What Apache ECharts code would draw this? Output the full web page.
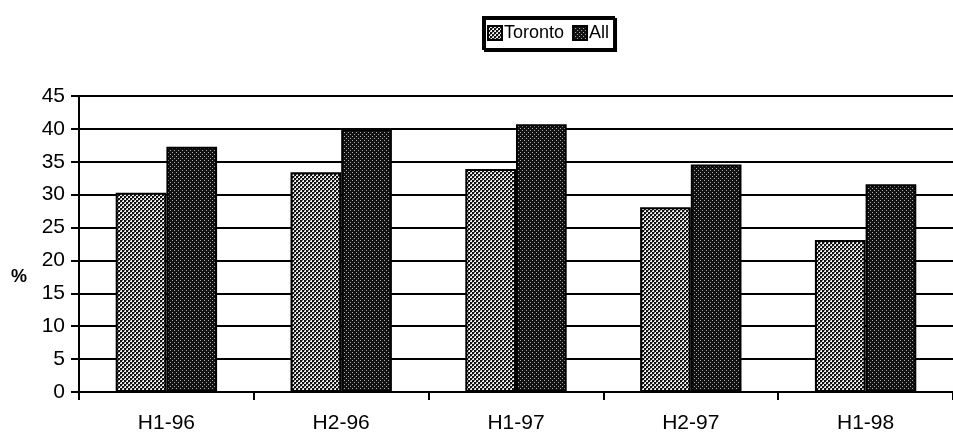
<!DOCTYPE html>
<html><head><meta charset="utf-8">
<script src="https://cdn.jsdelivr.net/npm/echarts@6/dist/echarts.min.js"></script>
<style>html,body{margin:0;padding:0;background:#fff}#c{width:953px;height:434px}</style>
</head><body><div id="c"></div>
<script>
const categories = ['H1-96','H2-96','H1-97','H2-97','H1-98'];
const toronto = [30.3, 33.4, 33.9, 28.1, 23.1];
const all = [37.3, 40.0, 40.7, 34.6, 31.6];
const seriesNames = ['Toronto','All'];
const yName = '%';

function makePattern(type){
  const c = document.createElement('canvas');
  c.width = 4; c.height = 4;
  const g = c.getContext('2d');
  if(type === 'light'){
    g.fillStyle = '#eee'; g.fillRect(0,0,4,4);
    g.fillStyle = '#111';
    g.fillRect(0,0,2,2); g.fillRect(2,2,2,2);
    g.fillStyle = '#777';
    g.fillRect(2,0,1,1); g.fillRect(0,2,1,1);
  } else {
    g.fillStyle = '#111'; g.fillRect(0,0,4,4);
    g.fillStyle = '#aaa';
    g.fillRect(0,0,1,1); g.fillRect(2,2,1,1);
  }
  return c;
}
const patLight = {image: makePattern('light'), repeat: 'repeat'};
const patDark = {image: makePattern('dark'), repeat: 'repeat'};
const font = 'Liberation Sans, Arial, sans-serif';

const chart = echarts.init(document.getElementById('c'));
chart.setOption({
  animation: false,
  backgroundColor: '#fff',
  legend: {
    top: 17, left: 483,
    icon: 'rect',
    itemWidth: 14, itemHeight: 14, itemGap: 8,
    padding: [7, 5, 7, 4],
    borderColor: '#000', borderWidth: 2,
    shadowColor: '#000', shadowOffsetX: 2, shadowOffsetY: 2,
    backgroundColor: '#fff',
    textStyle: {fontFamily: font, fontSize: 18, color: '#000', padding: [0,0,0,-3]},
    data: seriesNames
  },
  graphic: [{
    type: 'text', left: 11, top: 268,
    style: {text: yName, font: 'bold 18px ' + font, fill: '#000'}
  }],
  grid: {left: 79, top: 96, bottom: 42, right: -7},
  xAxis: {
    type: 'category', data: categories,
    axisLine: {lineStyle: {color: '#000', width: 2}},
    axisTick: {show: true, length: 8, lineStyle: {color: '#000', width: 2}},
    axisLabel: {color: '#000', fontSize: 21, fontFamily: font, margin: 21}
  },
  yAxis: {
    type: 'value', min: 0, max: 45, interval: 5,
    axisLine: {show: true, lineStyle: {color: '#000', width: 2}},
    axisTick: {show: true, length: 8, lineStyle: {color: '#000', width: 2}},
    axisLabel: {color: '#000', fontSize: 21, fontFamily: font, margin: 14},
    splitLine: {lineStyle: {color: '#000', width: 2}}
  },
  series: [
    {name: seriesNames[0], type: 'bar', data: toronto, barGap: '0%', barCategoryGap: '42%',
     itemStyle: {color: patLight, borderColor: '#000', borderWidth: 2}},
    {name: seriesNames[1], type: 'bar', data: all, barGap: '0%', barCategoryGap: '42%',
     itemStyle: {color: patDark, borderColor: '#000', borderWidth: 2}}
  ]
});
</script></body></html>
